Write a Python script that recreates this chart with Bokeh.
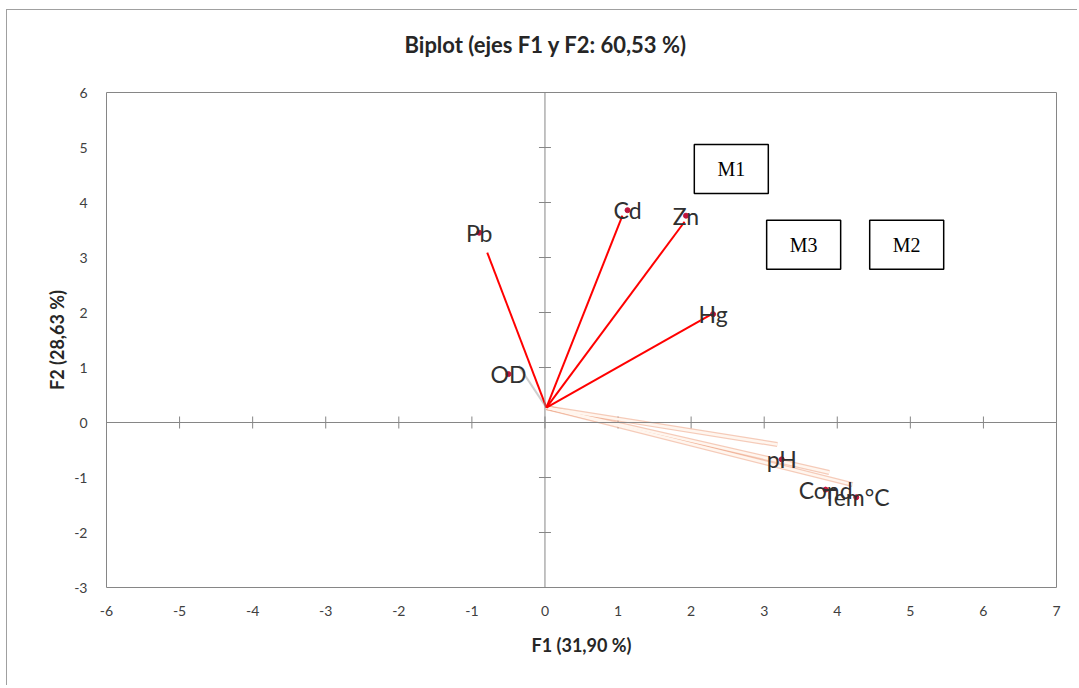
from bokeh.plotting import figure
from bokeh.models import Span, Title, ColumnDataSource, FixedTicker, Range1d
from bokeh.core.properties import value
from bokeh.embed import file_html
from bokeh.resources import INLINE
import math

# ---- data ----
variables = ["Pb", "Cd", "Zn", "Hg", "OD", "pH", "Cond", "Tem°C"]
f1 = [-0.90, 1.13, 1.93, 2.30, -0.50, 3.24, 3.84, 4.26]
f2 = [3.45, 3.86, 3.76, 1.97, 0.88, -0.67, -1.22, -1.36]

# vector origin (as drawn) and end points of the vectors
origin_f1 = 0.02
origin_f2 = 0.27
red_vars = ["Pb", "Cd", "Zn", "Hg"]
red_end_f1 = [-0.79, 1.06, 1.91, 2.27]
red_end_f2 = [3.09, 3.76, 3.65, 1.96]
orange_vars = ["pH", "Cond", "Tem°C"]
orange_end_f1 = [3.18, 3.89, 4.21]
orange_end_f2 = [-0.40, -0.91, -1.13]
grey_vars = ["OD"]
grey_end_f1 = [-0.36]
grey_end_f2 = [1.03]

boxes = ["M1", "M3", "M2"]
box_f1 = [2.55, 3.54, 4.95]
box_f2 = [4.61, 3.23, 3.23]

x_ticks = [-6, -5, -4, -3, -2, -1, 0, 1, 2, 3, 4, 5, 6, 7]
y_ticks = [-3, -2, -1, 0, 1, 2, 3, 4, 5, 6]

FONT = "Lato"
GREY = "#868686"

p = figure(width=1071, height=676, output_backend="svg", toolbar_location=None,
           x_range=Range1d(-6, 7), y_range=Range1d(-3, 6),
           min_border_left=99, min_border_right=22, min_border_top=82, min_border_bottom=99)
p.styles = {"border-left": "1px solid #a0a0a0", "border-top": "1px solid #a0a0a0",
            "margin-left": "6px", "margin-top": "9px"}
p.background_fill_color = "white"
p.border_fill_color = "white"
p.outline_line_color = GREY
p.outline_line_width = 1
p.grid.visible = False

# axes (labels at frame edges)
for ax in (p.xaxis[0], p.yaxis[0]):
    ax.axis_line_color = None
    ax.major_tick_line_color = None
    ax.minor_tick_line_color = None
    ax.major_label_text_font = FONT
    ax.major_label_text_font_size = "14px"
    ax.major_label_text_color = "#404040"
    ax.axis_label_text_font = FONT
    ax.axis_label_text_font_style = "bold"
    ax.axis_label_text_font_size = "18px"
    ax.axis_label_text_color = "#262626"
p.xaxis.ticker = FixedTicker(ticks=x_ticks)
p.yaxis.ticker = FixedTicker(ticks=y_ticks)
p.xaxis.major_label_overrides = {t: str(t) for t in x_ticks}
p.yaxis.major_label_overrides = {t: str(t) for t in y_ticks}
p.xaxis.axis_label = "F1 (31,90 %)"
p.yaxis.axis_label = "F2 (28,63 %)"
p.xaxis.major_label_standoff = 12
p.yaxis.major_label_standoff = 13
p.xaxis.axis_label_standoff = 15
p.yaxis.axis_label_standoff = 3

# central axes lines with crossing tick marks
p.add_layout(Span(location=0, dimension="width", line_color=GREY, line_width=1))
p.add_layout(Span(location=0, dimension="height", line_color=GREY, line_width=1))
p.scatter(x=x_ticks, y=[0] * len(x_ticks), marker="dash", size=12, angle=math.pi / 2,
          line_color=GREY, line_width=1)
p.scatter(x=[0] * len(y_ticks), y=y_ticks, marker="dash", size=12,
          line_color=GREY, line_width=1)

# faint grey vector (OD)
p.segment(x0=[origin_f1] * len(grey_vars), y0=[origin_f2] * len(grey_vars),
          x1=grey_end_f1, y1=grey_end_f2, line_color="#cfcfcf", line_width=2)

# pale orange double-line vectors
p.segment(x0=[origin_f1] * len(orange_vars), y0=[origin_f2] * len(orange_vars),
          x1=orange_end_f1, y1=orange_end_f2,
          line_color="#eea98a", line_width=5, line_alpha=0.6)
p.segment(x0=[origin_f1] * len(orange_vars), y0=[origin_f2] * len(orange_vars),
          x1=orange_end_f1, y1=orange_end_f2,
          line_color="#fff6ef", line_width=2.5)

# red vectors
p.segment(x0=[origin_f1] * len(red_vars), y0=[origin_f2] * len(red_vars),
          x1=red_end_f1, y1=red_end_f2, line_color="#ff0000", line_width=2)

# variable points and labels
src = ColumnDataSource(dict(x=f1, y=f2, name=variables))
p.scatter("x", "y", source=src, size=5, fill_color="#c0143c", line_color="#c0143c")
p.text("x", "y", text="name", source=src, text_align="center", text_baseline="middle",
       text_font=value(FONT), text_font_size="23px", text_color="#303030")

# boxes
bsrc = ColumnDataSource(dict(x=box_f1, y=box_f2, name=boxes))
p.rect("x", "y", width=74, height=49, width_units="screen", height_units="screen",
       source=bsrc, fill_color="white", line_color="black", line_width=1.5)
p.text("x", "y", text="name", source=bsrc, text_align="center", text_baseline="middle",
       text_font=value("Liberation Serif"), text_font_size="20px", text_color="black")

# spacer between the frame and the title, then the title itself
spacer = Title(text=" ", text_font_size="1px", standoff=30)
p.add_layout(spacer, "above")
t = Title(text="Biplot (ejes F1 y F2: 60,53 %)", align="left", offset=298,
          text_font=FONT, text_font_size="22px", text_font_style="bold",
          text_color="#262626", standoff=4)
p.add_layout(t, "above")

open("out.html", "w").write(file_html(p, INLINE))
